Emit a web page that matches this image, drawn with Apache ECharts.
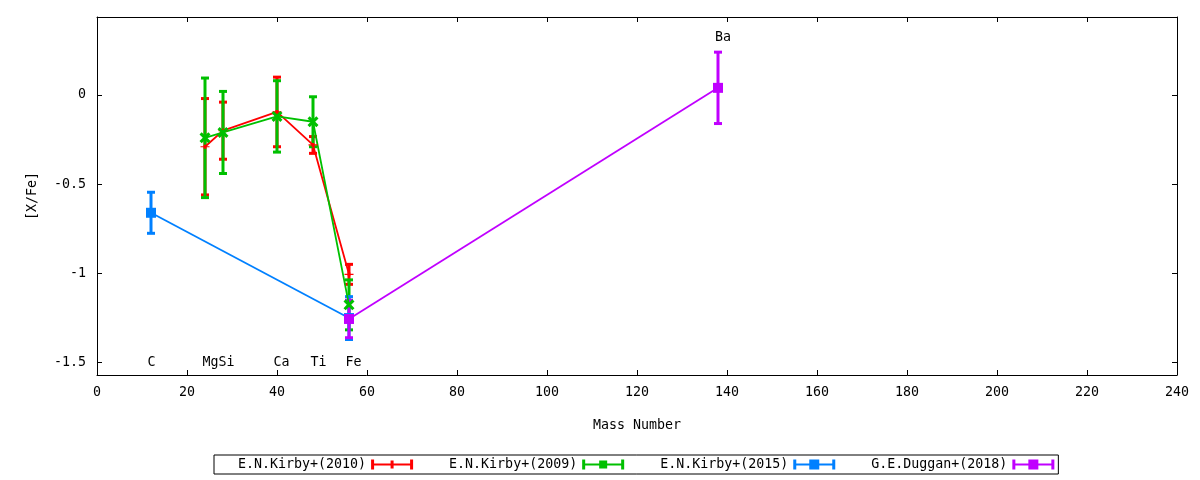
<!DOCTYPE html>
<html>
<head>
<meta charset="utf-8">
<script src="https://cdn.jsdelivr.net/npm/echarts@6/dist/echarts.min.js"></script>
<style>
html,body{margin:0;padding:0;background:#fff;}
#chart{width:1200px;height:480px;}
</style>
</head>
<body>
<div id="chart"></div>
<script>
// ---- data ----
const seriesNames = ['E.N.Kirby+(2010)', 'E.N.Kirby+(2009)', 'E.N.Kirby+(2015)', 'G.E.Duggan+(2018)'];

const kirby2010Mass = [24, 28, 40, 48, 56];
const kirby2010Val  = [-0.29, -0.20, -0.095, -0.28, -1.005];
const kirby2010Err  = [0.27, 0.16, 0.195, 0.047, 0.056];

const kirby2009Mass = [24, 28, 40, 48, 56];
const kirby2009Val  = [-0.24, -0.21, -0.12, -0.15, -1.176];
const kirby2009Err  = [0.335, 0.23, 0.20, 0.14, 0.14];

const kirby2015Mass = [12, 56];
const kirby2015Val  = [-0.66, -1.25];
const kirby2015Err  = [0.115, 0.12];

const duggan2018Mass = [56, 138];
const duggan2018Val  = [-1.255, 0.04];
const duggan2018Err  = [0.105, 0.20];

const elementNames = ['C', 'Mg', 'Si', 'Ca', 'Ti', 'Fe', 'Ba'];
const elementLabelX = [12.1, 25.2, 28.8, 41, 49.2, 57, 139.1];
const elementLabelY = [-1.501, -1.501, -1.501, -1.501, -1.501, -1.501, 0.322];

const xTicks = [0, 20, 40, 60, 80, 100, 120, 140, 160, 180, 200, 220, 240];
const yTicks = [-1.5, -1, -0.5, 0];
const yMin = -1.569, yMax = 0.437;

// ---- styling ----
const FONT = 'DejaVu Sans Mono';
const FS = 13.3;
const colors = ['#ff0000', '#00c000', '#0080ff', '#c000ff'];
const markerPlus = 'path://M3.5 0h3v10h-3zM0 3.5h10v3h-10z';
const markerX = 'path://M0 2L2 0L5 3L8 0L10 2L7 5L10 8L8 10L5 7L2 10L0 8L3 5Z';
const symbols = [markerPlus, markerX, 'rect', 'rect'];
const symbolSizes = [[9, 4], 11, 10, 10];

const iconBase = 'M0 0h3v10h-3zM39 0h3v10h-3zM0 4h42v2h-42z';
const icons = [
  'path://' + iconBase + 'M19.5 1h3v8h-3z',
  'path://' + iconBase + 'M17 1h8v8h-8z',
  'path://' + iconBase + 'M16 0h10v10h-10z',
  'path://' + iconBase + 'M16 0h10v10h-10z'
];

const allMass = [kirby2010Mass, kirby2009Mass, kirby2015Mass, duggan2018Mass];
const allVal = [kirby2010Val, kirby2009Val, kirby2015Val, duggan2018Val];
const allErr = [kirby2010Err, kirby2009Err, kirby2015Err, duggan2018Err];

function errRender(params, api) {
  const x = api.value(0), y = api.value(1), e = api.value(2);
  const top = api.coord([x, y + e]);
  const bot = api.coord([x, y - e]);
  const c = api.visual('color');
  return {
    type: 'group',
    children: [
      {type: 'rect', shape: {x: top[0] - 1.5, y: top[1], width: 3, height: bot[1] - top[1]}, style: {fill: c}},
      {type: 'rect', shape: {x: top[0] - 4, y: top[1] - 1.5, width: 8, height: 3}, style: {fill: c}},
      {type: 'rect', shape: {x: bot[0] - 4, y: bot[1] - 1.5, width: 8, height: 3}, style: {fill: c}}
    ]
  };
}

const series = [];
seriesNames.forEach((name, k) => {
  const pts = allMass[k].map((m, i) => [m, allVal[k][i], allErr[k][i]]);
  series.push({
    name: name,
    type: 'custom',
    renderItem: errRender,
    itemStyle: {color: colors[k]},
    encode: {x: 0, y: 1},
    data: pts,
    silent: true
  });
  series.push({
    name: name,
    type: 'line',
    data: pts.map(p => [p[0], p[1]]),
    color: colors[k],
    symbol: symbols[k],
    symbolSize: symbolSizes[k],
    symbolKeepAspect: false,
    showAllSymbol: true,
    lineStyle: {color: colors[k], width: 1.8},
    itemStyle: {color: colors[k], opacity: 1},
    silent: true
  });
});

series.push({
  type: 'custom',
  name: 'labels',
  silent: true,
  encode: {x: 0, y: 1},
  data: elementNames.map((n, i) => [elementLabelX[i], elementLabelY[i], i]),
  renderItem: function (params, api) {
    const p = api.coord([api.value(0), api.value(1)]);
    return {
      type: 'text',
      x: p[0], y: p[1],
      style: {
        text: elementNames[api.value(2)],
        fill: '#000',
        font: FS + 'px "' + FONT + '"',
        align: 'center',
        verticalAlign: 'middle'
      }
    };
  },
  z: 10
});

const axisLineStyle = {show: true, onZero: false, lineStyle: {color: '#000', width: 1}};
const labelStyle = {color: '#000', fontFamily: FONT, fontSize: FS};

const option = {
  animation: false,
  backgroundColor: '#fff',
  grid: {left: 97, right: 23, top: 17, bottom: 105},
  legend: {
    data: seriesNames.map((n, k) => ({name: n, icon: icons[k]})),
    left: 214,
    top: 455,
    orient: 'horizontal',
    align: 'right',
    itemWidth: 42,
    itemHeight: 10,
    itemGap: 36,
    padding: [3, 4, 3, 24],
    borderColor: '#000',
    borderWidth: 1,
    borderRadius: 0,
    selectedMode: false,
    textStyle: {color: '#000', fontFamily: FONT, fontSize: FS}
  },
  xAxis: [
    {
      type: 'value', position: 'bottom', min: 0, max: 240, interval: 20,
      axisLine: axisLineStyle,
      axisTick: {show: true, inside: true, length: 5, lineStyle: {color: '#000'}},
      axisLabel: Object.assign({margin: 11, showMinLabel: true, showMaxLabel: true}, labelStyle),
      splitLine: {show: false},
      name: 'Mass Number', nameLocation: 'middle', nameGap: 44,
      nameTextStyle: labelStyle
    },
    {
      type: 'value', position: 'top', min: 0, max: 240, interval: 20,
      axisLine: axisLineStyle,
      axisTick: {show: true, inside: true, length: 5, lineStyle: {color: '#000'}},
      axisLabel: {show: false},
      splitLine: {show: false}
    }
  ],
  yAxis: [
    {
      type: 'value', position: 'left', min: yMin, max: yMax,
      axisLine: axisLineStyle,
      axisTick: {show: true, inside: true, length: 5, lineStyle: {color: '#000'}, customValues: yTicks},
      axisLabel: Object.assign({margin: 11, customValues: yTicks, formatter: v => String(v)}, labelStyle),
      splitLine: {show: false},
      name: '[X/Fe]', nameLocation: 'middle', nameGap: 58, nameRotate: 90,
      nameTextStyle: labelStyle
    },
    {
      type: 'value', position: 'right', min: yMin, max: yMax,
      axisLine: axisLineStyle,
      axisTick: {show: true, inside: true, length: 5, lineStyle: {color: '#000'}, customValues: yTicks},
      axisLabel: {show: false},
      splitLine: {show: false}
    }
  ],
  series: series
};

const chart = echarts.init(document.getElementById('chart'), null, {renderer: 'canvas'});
chart.setOption(option);
</script>
</body>
</html>
